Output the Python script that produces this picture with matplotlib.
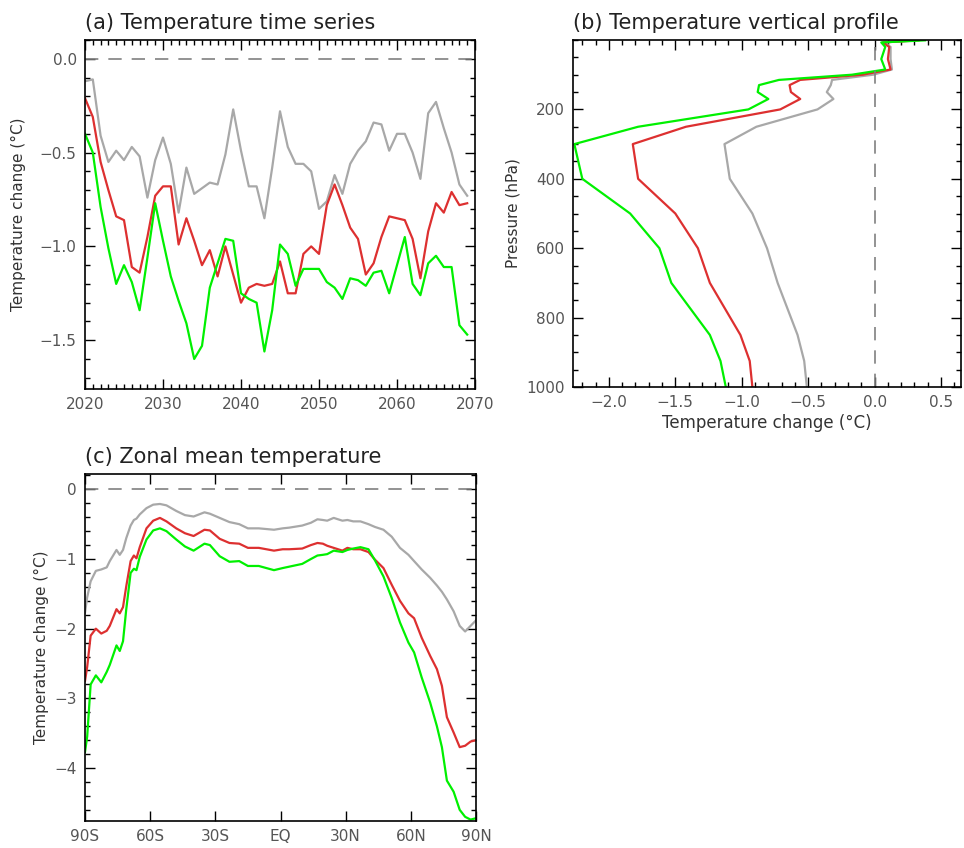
import numpy as np
import matplotlib.pyplot as plt
from matplotlib.ticker import MultipleLocator

# ---- (a) time series, 2020-2069
years = np.arange(2020, 2070)
ts_gray = [-0.12, -0.11, -0.41, -0.55, -0.49, -0.54, -0.47, -0.52, -0.74, -0.54,
           -0.42, -0.56, -0.82, -0.58, -0.72, -0.69, -0.66, -0.67, -0.51, -0.27,
           -0.49, -0.68, -0.68, -0.85, -0.58, -0.28, -0.47, -0.56, -0.56, -0.60,
           -0.80, -0.76, -0.62, -0.72, -0.56, -0.49, -0.44, -0.34, -0.35, -0.49,
           -0.40, -0.40, -0.50, -0.64, -0.29, -0.23, -0.37, -0.50, -0.67, -0.73]
ts_red = [-0.21, -0.31, -0.55, -0.70, -0.84, -0.86, -1.11, -1.14, -0.95, -0.73,
          -0.68, -0.68, -0.99, -0.85, -0.97, -1.10, -1.02, -1.16, -1.00, -1.15,
          -1.30, -1.22, -1.20, -1.21, -1.20, -1.08, -1.25, -1.25, -1.04, -1.00,
          -1.04, -0.78, -0.67, -0.78, -0.90, -0.96, -1.15, -1.09, -0.95, -0.84,
          -0.85, -0.86, -0.96, -1.17, -0.92, -0.77, -0.82, -0.71, -0.78, -0.77]
ts_green = [-0.40, -0.50, -0.79, -1.01, -1.20, -1.10, -1.19, -1.34, -1.06, -0.77,
            -0.97, -1.16, -1.29, -1.41, -1.60, -1.53, -1.22, -1.09, -0.96, -0.97,
            -1.25, -1.28, -1.30, -1.56, -1.34, -0.99, -1.04, -1.21, -1.12, -1.12,
            -1.12, -1.19, -1.22, -1.28, -1.17, -1.18, -1.21, -1.14, -1.13, -1.25,
            -1.10, -0.95, -1.20, -1.26, -1.09, -1.05, -1.11, -1.11, -1.42, -1.47]

# ---- (b) vertical profile
plev = [1000, 925, 850, 700, 600, 500, 400, 300, 250, 200, 170, 150, 130, 115,
        100, 85, 55, 20, 7, 1]
vp_gray = [-0.51, -0.53, -0.58, -0.73, -0.81, -0.92, -1.09, -1.13, -0.89, -0.43,
           -0.31, -0.36, -0.33, -0.32, -0.01, 0.13, 0.12, 0.12, 0.07, 0.30]
vp_red = [-0.92, -0.94, -1.01, -1.24, -1.33, -1.50, -1.78, -1.82, -1.42, -0.71,
          -0.56, -0.63, -0.64, -0.56, -0.09, 0.12, 0.10, 0.11, 0.06, 0.33]
vp_green = [-1.12, -1.16, -1.24, -1.53, -1.62, -1.84, -2.20, -2.26, -1.78, -0.95,
            -0.80, -0.88, -0.87, -0.72, -0.17, 0.08, 0.05, 0.08, 0.05, 0.38]

# ---- (c) zonal mean
lat_s = [-90, -89, -87.4, -85, -82.5, -80, -78.6, -75.5, -74, -72.5, -71, -69,
         -67.5, -66.3, -64.8, -61.7, -58.6, -55.5, -52.5, -48, -44, -40, -35,
         -32.5, -28, -23.5, -19, -15, -10, -3, 1, 4, 10, 14, 17, 19.5, 21.5, 24.5,
         28.5, 30.8, 33.5, 36.8, 40.5, 43.5, 47.4, 51.2, 55, 58.9, 61.5, 65,
         68.9, 72, 74.3, 76.6, 79.7, 82.5, 85, 87.5, 90]
zm_gray = [-1.77, -1.55, -1.32, -1.17, -1.15, -1.12, -1.03, -0.87, -0.94, -0.87,
           -0.70, -0.52, -0.44, -0.42, -0.36, -0.27, -0.22, -0.21, -0.23, -0.31,
           -0.37, -0.39, -0.33, -0.35, -0.41, -0.47, -0.50, -0.56, -0.56, -0.58,
           -0.56, -0.55, -0.52, -0.48, -0.43, -0.44, -0.45, -0.41, -0.45, -0.44,
           -0.46, -0.46, -0.50, -0.54, -0.58, -0.68, -0.84, -0.94, -1.03, -1.15,
           -1.27, -1.38, -1.47, -1.58, -1.75, -1.96, -2.04, -1.96, -1.88]
zm_red = [-2.75, -2.55, -2.10, -2.00, -2.07, -2.03, -1.96, -1.72, -1.78, -1.69,
          -1.39, -1.03, -0.95, -0.99, -0.83, -0.56, -0.45, -0.41, -0.46, -0.56,
          -0.63, -0.67, -0.58, -0.59, -0.71, -0.77, -0.78, -0.84, -0.84, -0.88,
          -0.86, -0.86, -0.85, -0.80, -0.77, -0.78, -0.81, -0.84, -0.88, -0.84,
          -0.86, -0.86, -0.90, -1.01, -1.13, -1.37, -1.60, -1.78, -1.85, -2.13,
          -2.39, -2.58, -2.82, -3.27, -3.49, -3.70, -3.68, -3.62, -3.60]
zm_green = [-3.77, -3.55, -2.80, -2.67, -2.77, -2.62, -2.52, -2.24, -2.32, -2.18,
            -1.72, -1.20, -1.14, -1.16, -0.97, -0.72, -0.59, -0.56, -0.60, -0.72,
            -0.82, -0.88, -0.78, -0.80, -0.96, -1.04, -1.03, -1.10, -1.10, -1.16,
            -1.13, -1.11, -1.07, -1.00, -0.95, -0.94, -0.93, -0.88, -0.90, -0.87,
            -0.85, -0.83, -0.86, -1.02, -1.25, -1.56, -1.91, -2.20, -2.34, -2.70,
            -3.06, -3.40, -3.70, -4.18, -4.34, -4.60, -4.70, -4.74, -4.72]

GRAY = '#a8a8a8'
RED = '#dd3030'
GREEN = '#00f000'
LW = 1.6

plt.rcParams['font.family'] = 'DejaVu Sans'
plt.rcParams['xtick.labelcolor'] = '#555555'
plt.rcParams['ytick.labelcolor'] = '#555555'

fig = plt.figure(figsize=(9.64, 8.48), dpi=100)
W, H = 964, 848


def add_axes(x0, y0, x1, y1):
    return fig.add_axes([x0 / W, 1 - y1 / H, (x1 - x0) / W, (y1 - y0) / H])


def style(ax):
    ax.tick_params(which='both', direction='in', top=True, right=True,
                   labelsize=11, color='black')
    ax.tick_params(which='major', length=7, width=1, pad=6)
    ax.tick_params(which='minor', length=3.5, width=1)
    for s in ax.spines.values():
        s.set_linewidth(1.2)


# (a)
ax1 = add_axes(85, 40, 475, 389)
ax1.plot(years, ts_gray, color=GRAY, lw=LW)
ax1.plot(years, ts_red, color=RED, lw=LW)
ax1.plot(years, ts_green, color=GREEN, lw=LW)
ax1.axhline(0, color='#808080', lw=1.2, dashes=(8, 6))
ax1.set_xlim(2020, 2070)
ax1.set_ylim(-1.76, 0.1)
ax1.xaxis.set_major_locator(MultipleLocator(10))
ax1.xaxis.set_minor_locator(MultipleLocator(1))
ax1.yaxis.set_major_locator(MultipleLocator(0.5))
ax1.yaxis.set_minor_locator(MultipleLocator(0.1))
ax1.yaxis.set_major_formatter(lambda v, p: f'{v:.1f}'.replace('-', '\u2212'))
ax1.set_ylabel('Temperature change (\u00b0C)', fontsize=11, color='#333333',
               labelpad=10)
ax1.set_title('(a) Temperature time series', loc='left', fontsize=15, pad=8,
              color='#222222')
style(ax1)

# (b)
ax2 = add_axes(573, 40, 961, 387)
ax2.plot(vp_gray, plev, color=GRAY, lw=LW)
ax2.plot(vp_red, plev, color=RED, lw=LW)
ax2.plot(vp_green, plev, color=GREEN, lw=LW)
ax2.axvline(0, color='#808080', lw=1.2, dashes=(8, 6))
ax2.set_xlim(-2.27, 0.65)
ax2.set_ylim(1000, 0)
ax2.set_yticks([200, 400, 600, 800, 1000])
ax2.yaxis.set_minor_locator(MultipleLocator(50))
ax2.xaxis.set_major_locator(MultipleLocator(0.5))
ax2.xaxis.set_minor_locator(MultipleLocator(0.1))
ax2.xaxis.set_major_formatter(lambda v, p: f'{v:.1f}'.replace('-', '\u2212'))
ax2.set_ylabel('Pressure (hPa)', fontsize=11, color='#333333')
ax2.set_xlabel('Temperature change (\u00b0C)', fontsize=12, color='#333333',
               labelpad=3)
ax2.set_title('(b) Temperature vertical profile', loc='left', fontsize=15, pad=8,
              color='#222222')
style(ax2)

# (c)
ax3 = add_axes(85, 474, 476, 821)
ax3.plot(lat_s, zm_gray, color=GRAY, lw=LW)
ax3.plot(lat_s, zm_red, color=RED, lw=LW)
ax3.plot(lat_s, zm_green, color=GREEN, lw=LW)
ax3.axhline(0, color='#808080', lw=1.2, dashes=(8, 6))
ax3.set_xlim(-90, 90)
ax3.set_ylim(-4.76, 0.22)
ax3.set_xticks([-90, -60, -30, 0, 30, 60, 90])
ax3.set_xticklabels(['90S', '60S', '30S', 'EQ', '30N', '60N', '90N'])
ax3.yaxis.set_major_locator(MultipleLocator(1))
ax3.yaxis.set_minor_locator(MultipleLocator(0.2))
ax3.yaxis.set_major_formatter(lambda v, p: f'{v:.0f}'.replace('-', '\u2212'))
ax3.set_ylabel('Temperature change (\u00b0C)', fontsize=11, color='#333333')
ax3.set_title('(c) Zonal mean temperature', loc='left', fontsize=15, pad=8,
              color='#222222')
style(ax3)

fig.savefig('out.png', dpi=100)
